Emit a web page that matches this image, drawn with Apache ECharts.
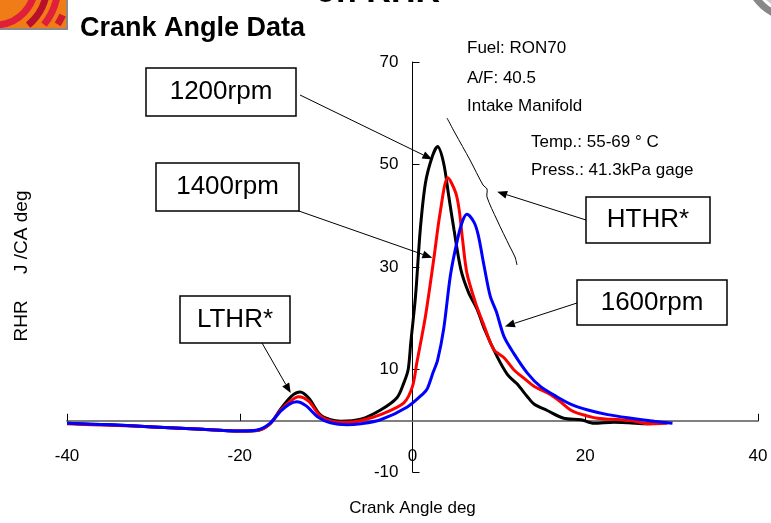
<!DOCTYPE html>
<html><head><meta charset="utf-8">
<script src="https://cdn.jsdelivr.net/npm/echarts@6/dist/echarts.min.js"></script>
<style>html,body{margin:0;padding:0;background:#fff}#c{width:771px;height:523px}</style>
</head><body><div id="c"></div>
<script>
// ---- data ----
const xTicks = [-40, -20, 0, 20, 40];
const yTicks = [-10, 10, 30, 50, 70];

const angle1200 = [-40,-35,-30,-25,-20,-18,-16.5,-15.3,-14,-13,-12,-10.7,-9.5,-8.3,-6,-3.7,-1.8,-1.0,-0.5,-0.2,0.35,0.9,1.5,2.3,2.9,3.6,4.2,4.8,5.6,6.5,7.5,8.3,9.8,11.0,12.1,13.3,14.1,15.6,17.5,19.5,21.0,23.3,25,27.2,28];
const rhr1200   = [-0.5,-0.8,-1.2,-1.6,-2.0,-1.9,-0.6,2.2,4.8,5.6,4.4,1.2,0.2,-0.1,0.3,2.1,4.5,7.4,10,15.2,24.3,37.3,46.4,51.6,53.5,50.3,43.8,37.3,29.5,25,21.7,18,12.5,9.0,7.2,4.7,3.2,2.0,0.5,0.2,-0.5,-0.3,-0.4,-0.6,-0.5];

const angle1400 = [-40,-35,-30,-25,-20,-18,-16.5,-15.3,-14,-13.2,-12,-10.7,-9,-7.5,-6,-3.7,-1,0,0.5,1.5,2.5,3.2,4.1,5.0,5.4,5.8,6.3,7.3,8.3,9.4,10.6,11.7,12.9,14.1,16,17.2,18.3,19.1,21.4,24.1,25.5,27.2,29.5];
const rhr1400   = [-0.6,-0.9,-1.2,-1.6,-2.0,-1.9,-0.6,2.0,4.0,4.7,3.8,1.0,-0.2,-0.3,0.0,1.2,3.5,6.7,11.3,20.4,32,40.6,47.4,44.5,41.2,35.3,28.8,23,18.5,13.9,12.3,10,8.3,6.7,5.1,3.6,2.1,1.5,0.5,0.2,0.0,-0.6,-0.5];

const angle1600 = [-40,-35,-30,-25,-20,-18,-16.5,-15.3,-14.3,-13.4,-12.3,-11,-9.5,-7.6,-6,-3.7,-0.6,1.3,1.7,2.4,2.9,3.6,4.4,5.2,5.8,6.3,7.1,7.6,8.3,9.0,9.7,10.6,11.7,13.3,14.8,16.8,18.5,20.3,22.6,25.3,28,30.1];
const rhr1600   = [-0.5,-0.8,-1.2,-1.6,-2.0,-1.8,-0.5,1.8,3.2,3.7,2.9,0.8,-0.4,-0.8,-0.6,0.2,2.7,5.4,6.2,9.5,11.8,17.8,28.5,35.3,39,40.3,38.8,36.3,30.1,24.3,21.3,16.4,13.2,9.3,6.7,4.6,3.1,2.1,1.2,0.5,-0.1,-0.5];

const seriesNames = ['1200rpm', '1400rpm', '1600rpm'];
const infoLines = ['Fuel: RON70', 'A/F: 40.5', 'Intake Manifold', 'Temp.: 55-69 \u00b0 C', 'Press.: 41.3kPa gage'];

const FONT = '"Liberation Sans", Arial, sans-serif';
const zip = (xs, ys) => xs.map((x, i) => [x, ys[i]]);
const X0 = xTicks[0], X1 = xTicks[xTicks.length - 1];
const Y0 = yTicks[0], Y1 = yTicks[yTicks.length - 1];

// plot box in pixels
const L = 67, R = 13, T = 62, B = 51, W = 771, H = 523;
const plotW = W - L - R, plotH = H - T - B;
const zeroX = L + (0 - X0) / (X1 - X0) * plotW;       // pixel x of angle 0
const zeroY = T + (Y1 - 0) / (Y1 - Y0) * plotH;       // pixel y of RHR 0

const chart = echarts.init(document.getElementById('c'), null, {renderer: 'canvas'});
const txt = {fontSize: 17, color: '#000', fontFamily: FONT};
chart.setOption({
  animation: false,
  backgroundColor: '#fff',
  grid: [
    {left: L, right: R, top: T, bottom: B, containLabel: false, outerBoundsMode: 'none'},                 // data
    {left: L, right: R, top: T, bottom: H - zeroY, containLabel: false, outerBoundsMode: 'none'},         // x axis on zero
    {left: zeroX, right: W - zeroX - 10, top: T, bottom: B, containLabel: false, outerBoundsMode: 'none'} // y axis on zero
  ],
  xAxis: [
    {gridIndex: 0, type: 'value', min: X0, max: X1, show: false},
    {gridIndex: 1, type: 'value', min: X0, max: X1, interval: 20, position: 'bottom',
      axisLine: {onZero: false, lineStyle: {color: '#808080', width: 2}},
      axisTick: {inside: true, length: 7, lineStyle: {color: '#000', width: 1}},
      axisLabel: Object.assign({margin: 27}, txt),
      splitLine: {show: false},
      name: 'Crank Angle deg', nameLocation: 'middle', nameGap: 79, nameTextStyle: txt},
    {gridIndex: 2, type: 'value', min: 0, max: 1, show: false}
  ],
  yAxis: [
    {gridIndex: 0, type: 'value', min: Y0, max: Y1, show: false},
    {gridIndex: 1, type: 'value', min: 0, max: Y1, show: false},
    {gridIndex: 2, type: 'value', min: Y0, max: Y1, interval: 20, position: 'left',
      axisLine: {onZero: false, lineStyle: {color: '#000', width: 1}},
      axisTick: {inside: true, length: 7, lineStyle: {color: '#000', width: 1}},
      axisLabel: Object.assign({margin: 14}, txt),
      splitLine: {show: false}}
  ],
  series: [
    {name: seriesNames[0], type: 'line', xAxisIndex: 0, yAxisIndex: 0, data: zip(angle1200, rhr1200), smooth: 0.3, showSymbol: false, lineStyle: {color: '#000', width: 3}, itemStyle: {color: '#000'}, z: 10},
    {name: seriesNames[1], type: 'line', xAxisIndex: 0, yAxisIndex: 0, data: zip(angle1400, rhr1400), smooth: 0.3, showSymbol: false, lineStyle: {color: '#ff0000', width: 3}, itemStyle: {color: '#ff0000'}, z: 11},
    {name: seriesNames[2], type: 'line', xAxisIndex: 0, yAxisIndex: 0, data: zip(angle1600, rhr1600), smooth: 0.3, showSymbol: false, lineStyle: {color: '#0000ff', width: 3}, itemStyle: {color: '#0000ff'}, z: 12}
  ]
});

const px = (x, y) => chart.convertToPixel({xAxisIndex: 0, yAxisIndex: 0}, [x, y]);

function arrow(x1, y1, tip) {
  const [x2, y2] = tip;
  const a = Math.atan2(y2 - y1, x2 - x1);
  const AL = 10, AW = 4;
  const bx = x2 - AL * Math.cos(a), by = y2 - AL * Math.sin(a);
  return [
    {type: 'line', shape: {x1, y1, x2: bx, y2: by}, style: {stroke: '#000', lineWidth: 1}, z: 50},
    {type: 'polygon', shape: {points: [[x2, y2], [bx + AW * Math.sin(a), by - AW * Math.cos(a)], [bx - AW * Math.sin(a), by + AW * Math.cos(a)]]}, style: {fill: '#000'}, z: 50}
  ];
}
function box(x, y, w, h, text) {
  return [
    {type: 'rect', shape: {x, y, width: w, height: h}, style: {fill: '#fff', stroke: '#000', lineWidth: 1.5}, z: 60},
    {type: 'text', x: x + w / 2, y: y + h / 2, style: {text, fill: '#000', font: '26px ' + FONT, textAlign: 'center', textVerticalAlign: 'middle'}, z: 61}
  ];
}

const g = [];
// logo (top-left) and emblem (top-right)
g.push({type: 'rect', shape: {x: -2, y: -2, width: 69, height: 31}, style: {fill: '#f07c18', stroke: '#8a8a8a', lineWidth: 2}, z: 1});
[[40, 0.0, 1.5, '#e0203a'], [52, 0.0, 0.88, '#b8102a'], [63, 0.05, 0.68, '#e0203a'], [74, 0.42, 0.56, '#d01830']].forEach(([r, s, e, c]) =>
  g.push({type: 'arc', shape: {cx: -5, cy: -15, r, startAngle: s, endAngle: e}, style: {stroke: c, lineWidth: 7, fill: null}, z: 2}));
g.push({type: 'arc', shape: {cx: 795, cy: -30, r: 48, startAngle: 1.6, endAngle: 3.0}, style: {stroke: '#888', lineWidth: 7, fill: null}, z: 2});
g.push({type: 'arc', shape: {cx: 795, cy: -30, r: 40, startAngle: 1.6, endAngle: 3.0}, style: {stroke: '#ccc', lineWidth: 3, fill: null}, z: 2});
// titles
g.push({type: 'text', x: 440, y: -7, style: {text: 'on RHR', fill: '#000', font: 'bold 34px ' + FONT, textAlign: 'right', textVerticalAlign: 'middle'}, z: 5});
g.push({type: 'text', x: 80, y: 29, style: {text: 'Crank Angle Data', fill: '#000', font: 'bold 27px ' + FONT, textAlign: 'left', textVerticalAlign: 'middle'}, z: 5});
// y axis name
g.push({type: 'text', x: 22, y: 266, rotation: Math.PI / 2, style: {text: 'RHR     J /CA deg', fill: '#000', font: '19px ' + FONT, textAlign: 'center', textVerticalAlign: 'middle'}, z: 5});
// info text
const infoPos = [[467, 48], [467, 78], [467, 106], [531, 142], [531, 170]];
infoLines.forEach((t, i) => g.push({type: 'text', x: infoPos[i][0], y: infoPos[i][1], style: {text: t, fill: '#000', font: '17px ' + FONT, textAlign: 'left', textVerticalAlign: 'middle'}, z: 5}));
// brace for HTHR
g.push({type: 'polyline', shape: {points: [[447, 118], [455, 133], [470, 160], [483, 185], [487, 189], [487, 197], [497, 220], [510, 247], [515, 257], [517, 265]], smooth: 0.3}, style: {stroke: '#000', lineWidth: 1, fill: null}, z: 40});
// arrows
g.push(...arrow(300, 95, px(2.3, 51)));
g.push(...arrow(296, 210, px(2.3, 31.8)));
g.push(...arrow(262, 343, px(-14.1, 5.4)));
g.push(...arrow(586, 220, px(9.8, 44.7)));
g.push(...arrow(577, 303, px(10.7, 18.4)));
// boxes
g.push(...box(146, 68, 150, 48, seriesNames[0]));
g.push(...box(156, 163, 143, 48, seriesNames[1]));
g.push(...box(180, 296, 110, 47, 'LTHR*'));
g.push(...box(586, 197, 124, 46, 'HTHR*'));
g.push(...box(577, 280, 150, 45, seriesNames[2]));

chart.setOption({graphic: g});
</script>
</body></html>
